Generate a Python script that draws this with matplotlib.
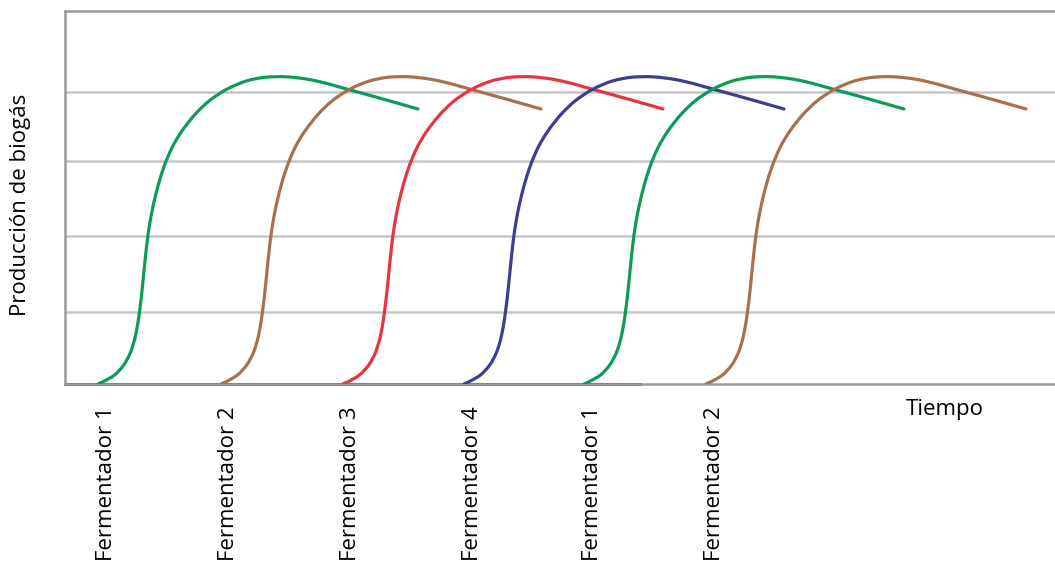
"""
Producción de biogás de fermentadores escalonados en el tiempo.
"""

import matplotlib
matplotlib.use("Agg")
import matplotlib.pyplot as plt
from matplotlib.path import Path
from matplotlib.patches import PathPatch

plt.rcParams["font.family"] = ["Open Sans", "DejaVu Sans"]

CURVE_DT = [0, 11.7, 21.7, 30, 35.7, 39.3, 41.7, 43.7, 45.7, 47.7, 50, 53.3,
            57.7, 63.3, 70, 78.3, 90, 103.3, 118.3, 138.3, 158.3, 178.3,
            198.3, 221.7, 248.3, 281.7, 320]
CURVE_PROD = [0, 5, 13.3, 25, 40, 56.7, 73.3, 90, 110, 130, 150, 170, 190,
              210, 228.3, 245, 261.7, 276.7, 289, 300, 306, 307.7, 306.7,
              302.7, 295, 286, 275]

# inicio de cada fermentador
STARTS = [98, 221, 343, 464, 584, 706]
NAMES = ["Fermentador 1", "Fermentador 2", "Fermentador 3", "Fermentador 4",
         "Fermentador 1", "Fermentador 2"]
COLORS = ["#0E9A57", "#A8704C", "#E8343F", "#3D3E8E", "#0E9A57", "#A8704C"]

GRID_Y = [72.3, 148.3, 223, 291.7]


def smooth_path(xs, ys):
    """Curva suave: los puntos leídos hacen de puntos de control (B-spline cuadrática)."""
    pts = list(zip(xs, ys))
    verts = [pts[0]]
    codes = [Path.MOVETO]
    for i in range(1, len(pts) - 1):
        mid = ((pts[i][0] + pts[i + 1][0]) / 2, (pts[i][1] + pts[i + 1][1]) / 2)
        if i == len(pts) - 2:
            mid = pts[-1]
        verts += [pts[i], mid]
        codes += [Path.CURVE3, Path.CURVE3]
    return Path(verts, codes)


W, H = 1055, 566
fig = plt.figure(figsize=(W / 100, H / 100), dpi=100)
ax = fig.add_axes([65 / W, (H - 384) / H, (W - 65) / W, 373 / H])

for start, color in zip(STARTS, COLORS):
    path = smooth_path([start + d for d in CURVE_DT], CURVE_PROD)
    ax.add_patch(PathPatch(path, fill=False, edgecolor=color, lw=2.3,
                           capstyle="round", zorder=3))

for gy in GRID_Y:
    ax.axhline(gy, color="#c6c6c6", lw=1.8, zorder=1)

ax.set_xlim(65, W)
ax.set_ylim(0, 373)

for side in ["left", "top", "bottom"]:
    ax.spines[side].set_color("#9a9a9a")
    ax.spines[side].set_linewidth(1.8)
ax.spines["right"].set_visible(False)
# tramo negro del eje de tiempo
ax.axhline(0, xmin=0, xmax=(640 - 65) / (W - 65), color="black", lw=1.8,
           zorder=2, clip_on=False)

ax.set_yticks([])
ax.set_xticks([s + 8 for s in STARTS])
ax.set_xticklabels(NAMES, rotation=90, fontsize=16, va="top", ha="center")
ax.tick_params(axis="x", length=0, pad=16)

ax.text(945, -26, "Tiempo", fontsize=16, ha="center", va="center")
fig.text(21 / W, 1 - 205 / H, "Producción de biogás", fontsize=16,
         rotation=90, ha="center", va="center")

fig.savefig("out.png", dpi=100)
